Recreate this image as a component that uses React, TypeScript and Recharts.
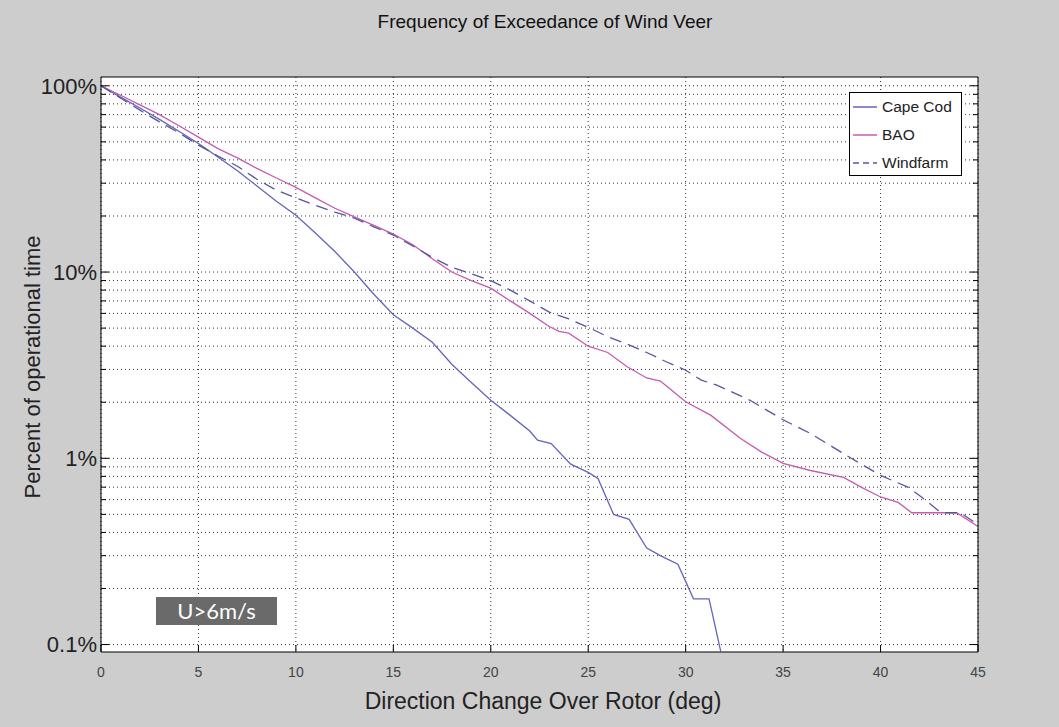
import {
  LineChart,
  Line,
  XAxis,
  YAxis,
  CartesianGrid,
} from "recharts";

// direction change (deg), percent of operational time
const capeCod: [number, number][] = [
  [0, 100], [1, 87], [2, 76], [3, 66], [4, 57], [5, 49], [6, 41.5], [7, 35],
  [8, 29], [9, 24], [10, 20.2], [11, 16.2], [12, 12.9], [13, 10], [14, 7.6],
  [15, 5.9], [16, 5.0], [17, 4.2], [18, 3.2], [19, 2.55], [20, 2.05],
  [21, 1.7], [22, 1.4], [22.4, 1.25], [23.1, 1.2], [24.1, 0.93], [25, 0.84],
  [25.5, 0.78], [26.3, 0.5], [27.1, 0.47], [28, 0.33], [28.7, 0.3],
  [29.6, 0.27], [30.4, 0.176], [31.2, 0.176], [31.8, 0.092],
];

const bao: [number, number][] = [
  [0, 100], [1, 89], [2, 79], [3, 70], [4, 61], [5, 53], [6, 46], [7, 41],
  [8, 36], [9, 32], [10, 28.5], [11, 25], [12, 22], [13, 19.8], [14, 17.8],
  [15, 16], [16, 14], [17, 11.8], [18, 10], [19, 9.0], [20, 8.2], [21, 7.0],
  [22, 6.0], [23, 5.1], [23.5, 4.8], [24, 4.7], [25, 4.0], [26, 3.7],
  [27, 3.1], [28, 2.7], [28.7, 2.6], [29, 2.45], [30, 2.01], [31.3, 1.7],
  [32.8, 1.28], [33.9, 1.08], [35, 0.94], [36.4, 0.86], [38.1, 0.79],
  [39, 0.7], [40, 0.62], [40.9, 0.58], [41.6, 0.51], [43.9, 0.51], [45, 0.43],
];

const windfarm: [number, number][] = [
  [0, 100], [1, 86], [2, 74], [3, 64], [4, 56], [5, 48], [6, 42], [7, 37],
  [8, 31.5], [9, 27.5], [10, 25], [11, 22.8], [12, 21], [13, 19.5],
  [14, 17.5], [15, 15.8], [16, 13.8], [17, 12], [18, 10.6], [19, 9.8],
  [20, 9.0], [21, 8.0], [22, 7.0], [23, 6.1], [24, 5.6], [25, 5.05],
  [26, 4.5], [27, 4.1], [28, 3.7], [29, 3.3], [30, 2.97], [30.8, 2.63],
  [31.6, 2.47], [33.3, 2.05], [35, 1.61], [36.4, 1.36], [38.5, 1.0],
  [40, 0.81], [41.4, 0.7], [42.1, 0.62], [43.1, 0.51], [44.1, 0.51],
  [45, 0.44],
];

const xTicks = [0, 5, 10, 15, 20, 25, 30, 35, 40, 45];
const yTicks = [
  0.1, 0.2, 0.3, 0.4, 0.5, 0.6, 0.7, 0.8, 0.9,
  1, 2, 3, 4, 5, 6, 7, 8, 9,
  10, 20, 30, 40, 50, 60, 70, 80, 90,
  100,
];
const yLabels: Record<string, string> = {
  "0.1": "0.1%",
  "1": "1%",
  "10": "10%",
  "100": "100%",
};

const series = [
  { name: "Cape Cod", data: capeCod, color: "#6464bc", dash: undefined },
  { name: "BAO", data: bao, color: "#c65ab4", dash: undefined },
  { name: "Windfarm", data: windfarm, color: "#56569e", dash: "12 7" },
];

const yDomain = [0.0912, 111.5];
const font = "'Liberation Sans', Arial, sans-serif";

const LeftTick = ({ x, y, payload }: any) => {
  const label = yLabels[String(payload.value)];
  return (
    <g>
      <line x1={x} x2={x + (label ? 8 : 5)} y1={y} y2={y} stroke="#000" />
      {label && (
        <text x={x - 4} y={y} dy="0.36em" textAnchor="end" fontSize={22} fill="#222" fontFamily={font}>
          {label}
        </text>
      )}
    </g>
  );
};

const RightTick = ({ x, y, payload }: any) => {
  const major = !!yLabels[String(payload.value)];
  return <line x1={x} x2={x - (major ? 8 : 5)} y1={y} y2={y} stroke="#000" />;
};

const BottomTick = ({ x, y, payload }: any) => (
  <g>
    <line x1={x} x2={x} y1={y} y2={y - 7} stroke="#000" />
    <text x={x} y={y + 20} dy="0.35em" textAnchor="middle" fontSize={14} fill="#444" fontFamily={font}>
      {payload.value}
    </text>
  </g>
);

const TopTick = ({ x, y }: any) => (
  <line x1={x} x2={x} y1={y} y2={y + 7} stroke="#000" />
);

export default function App() {
  return (
    <div
      style={{
        position: "absolute",
        left: 0,
        top: 0,
        width: 1059,
        height: 727,
        background: "#cdcdcd",
        fontFamily: font,
      }}
    >
      <LineChart
        width={1059}
        height={727}
        margin={{ top: 76, right: 80, bottom: 0, left: 0 }}
      >
        <CartesianGrid
          fill="#fff"
          stroke="#333"
          strokeDasharray="1 3"
          verticalValues={xTicks}
          horizontalValues={yTicks}
        />
        <XAxis
          dataKey="x"
          type="number"
          domain={[0, 45]}
          ticks={xTicks}
          interval={0}
          height={75}
          tickSize={0}
          tickMargin={0}
          tickLine={false}
          tick={<BottomTick />}
          stroke="#000"
          allowDataOverflow
        />
        <XAxis
          xAxisId="top"
          orientation="top"
          type="number"
          domain={[0, 45]}
          ticks={xTicks}
          interval={0}
          height={1}
          tickSize={0}
          tickMargin={0}
          tickLine={false}
          tick={<TopTick />}
          stroke="#000"
          allowDataOverflow
        />
        <YAxis
          type="number"
          scale="log"
          domain={yDomain}
          ticks={yTicks}
          interval={0}
          width={101}
          tickSize={0}
          tickMargin={0}
          tickLine={false}
          tick={<LeftTick />}
          stroke="#000"
          allowDataOverflow
        />
        <YAxis
          yAxisId="right"
          orientation="right"
          type="number"
          scale="log"
          domain={yDomain}
          ticks={yTicks}
          interval={0}
          width={1}
          tickSize={0}
          tickMargin={0}
          tickLine={false}
          tick={<RightTick />}
          stroke="#000"
          allowDataOverflow
        />
        {series.map((s) => (
          <Line
            key={s.name}
            name={s.name}
            data={s.data.map(([x, y]) => ({ x, y }))}
            dataKey="y"
            type="linear"
            stroke={s.color}
            strokeWidth={1.3}
            strokeDasharray={s.dash}
            dot={false}
            activeDot={false}
            isAnimationActive={false}
          />
        ))}
      </LineChart>

      {/* title */}
      <div
        style={{
          position: "absolute",
          left: 0,
          width: 1090,
          top: 11,
          textAlign: "center",
          fontSize: 19,
          color: "#111",
        }}
      >
        Frequency of Exceedance of Wind Veer
      </div>

      {/* y label */}
      <div
        style={{
          position: "absolute",
          left: 33,
          top: 367,
          transform: "translate(-50%, -50%) rotate(-90deg)",
          whiteSpace: "nowrap",
          fontSize: 22,
          color: "#222",
        }}
      >
        Percent of operational time
      </div>

      {/* x label */}
      <div
        style={{
          position: "absolute",
          left: 0,
          width: 1086,
          top: 688,
          textAlign: "center",
          fontSize: 23,
          color: "#222",
        }}
      >
        Direction Change Over Rotor (deg)
      </div>

      {/* legend */}
      <div
        style={{
          position: "absolute",
          left: 849,
          top: 92,
          width: 113,
          height: 84,
          background: "#fff",
          border: "1px solid #000",
          boxSizing: "border-box",
        }}
      >
        {series.map((s, i) => (
          <div
            key={s.name}
            style={{
              position: "absolute",
              left: 3,
              top: 5 + i * 28,
              height: 18,
              display: "flex",
              alignItems: "center",
              fontSize: 15.5,
              color: "#222",
            }}
          >
            <svg width={24} height={4} style={{ marginRight: 5 }}>
              <line
                x1={0}
                x2={24}
                y1={2}
                y2={2}
                stroke={s.color}
                strokeWidth={1.5}
                strokeDasharray={s.dash ? "6 4" : undefined}
              />
            </svg>
            {s.name}
          </div>
        ))}
      </div>

      {/* wind speed note */}
      <div
        style={{
          position: "absolute",
          left: 156,
          top: 597,
          width: 121,
          height: 28,
          background: "#6a6a6a",
          color: "#fff",
          fontFamily: "Lato, 'Open Sans', sans-serif",
          fontSize: 22,
          lineHeight: "28px",
          textAlign: "center",
        }}
      >
        U&gt;6m/s
      </div>
    </div>
  );
}
